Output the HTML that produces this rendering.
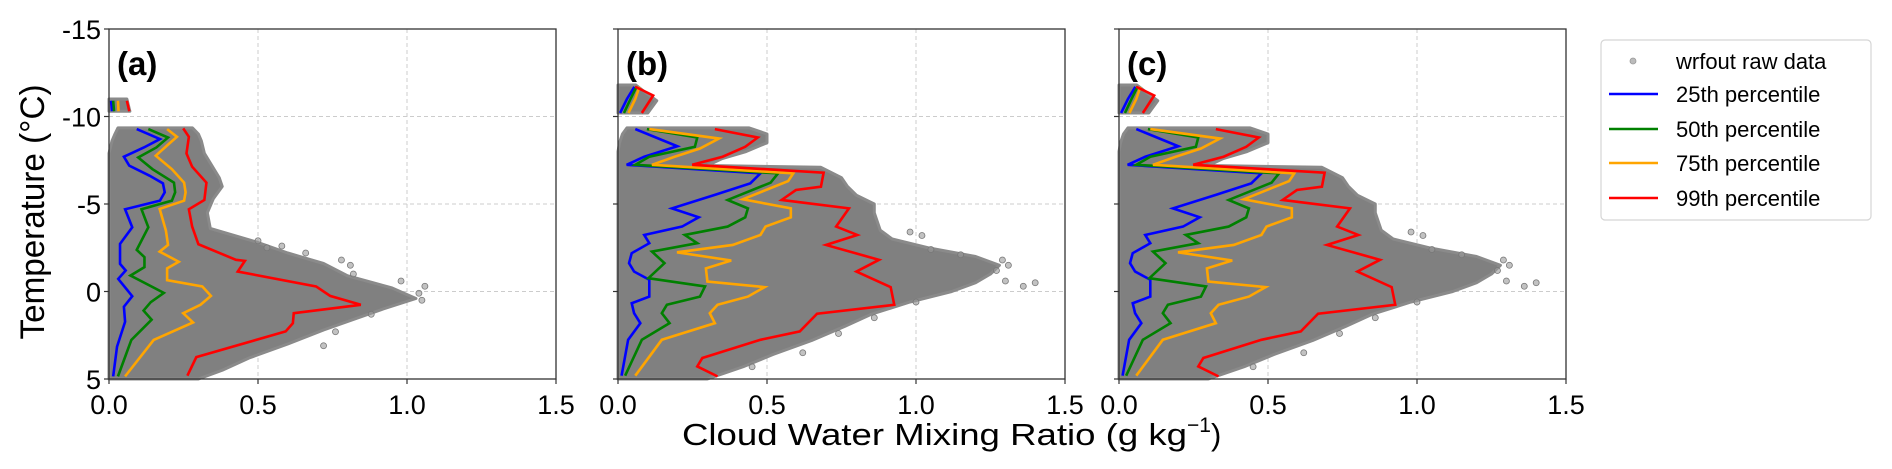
<!DOCTYPE html>
<html><head><meta charset="utf-8"><style>
body{margin:0;background:#fff;}
svg{display:block;font-family:"Liberation Sans","DejaVu Sans",sans-serif;}
</style></head><body>
<svg id="fig" width="1892" height="469" viewBox="0 0 1892 469"></svg>
<script>
// ---- data ----
const xTicks=[0,0.5,1.0,1.5];
const xTickLabels=["0.0","0.5","1.0","1.5"];
const yTicks=[-15,-10,-5,0,5];
const yTickLabels=["-15","-10","-5","0","5"];
const panelLabels=["(a)","(b)","(c)"];
const seriesNames=["25th percentile","50th percentile","75th percentile","99th percentile"];
const seriesColors=["#0000ff","#008000","#ffa500","#ff0000"];

// panel a
const aBlueT=[-9.28,-8.71,-8.23,-7.70,-7.19,-6.62,-6.18,-5.67,-5.19,-4.70,-3.67,-2.72,-1.58,-1.20,-0.72,0.27,0.87,1.73,3.15,4.85];
const aBlueX=[0.093,0.171,0.117,0.050,0.068,0.136,0.181,0.187,0.171,0.054,0.078,0.037,0.037,0.056,0.031,0.078,0.050,0.054,0.027,0.014];
const aGreenT=[-9.28,-8.80,-8.23,-7.66,-6.99,-6.22,-5.67,-5.19,-4.70,-3.67,-2.38,-1.96,-1.39,-0.91,0.08,0.61,1.09,1.61,2.77,4.85];
const aGreenX=[0.132,0.198,0.159,0.098,0.146,0.218,0.222,0.211,0.109,0.132,0.093,0.119,0.119,0.072,0.184,0.140,0.116,0.143,0.075,0.030];
const aOrangeT=[-9.28,-8.84,-8.42,-7.76,-6.99,-6.22,-5.67,-5.19,-4.72,-3.48,-2.66,-2.28,-1.70,-1.32,-0.65,-0.29,0.25,0.76,1.24,1.77,2.77,4.85];
const aOrangeX=[0.195,0.228,0.200,0.157,0.211,0.252,0.257,0.252,0.170,0.191,0.198,0.170,0.234,0.195,0.195,0.313,0.342,0.307,0.249,0.282,0.150,0.054];
const aRedT=[-9.32,-8.84,-7.89,-7.13,-6.22,-5.23,-4.70,-3.71,-2.70,-1.81,-1.75,-1.14,-0.29,0.25,0.76,1.24,1.81,2.28,3.75,4.81];
const aRedX=[0.249,0.268,0.260,0.279,0.327,0.320,0.268,0.279,0.300,0.426,0.456,0.432,0.695,0.742,0.845,0.620,0.617,0.593,0.293,0.263];
const aTopT=[-10.9,-10.3];
const aTopBlue=[0.007,0.010]; const aTopGreen=[0.014,0.017]; const aTopOrange=[0.030,0.032]; const aTopRed=[0.060,0.068];
const aCloudT=[-9.35,-9.0,-8.6,-7.9,-6.5,-6.0,-5.3,-4.5,-3.6,-3.3,-2.8,-2.2,-1.6,-0.9,-0.2,0.4,1.0,1.6,2.2,3.0,3.8,4.5,5];
const aCloudR=[0.28,0.30,0.31,0.32,0.37,0.38,0.35,0.33,0.34,0.40,0.50,0.60,0.72,0.80,0.95,1.03,0.92,0.82,0.72,0.60,0.47,0.38,0.30];
const aCloudL=[0.03,0.02,0.01,0,0,0,0,0,0,0,0,0,0,0,0,0,0,0,0,0,0,0,0];
const aTopCloudT=[-11.0,-10.3];
const aTopCloudR=[0.06,0.07];
const aOutT=[-2.9,-2.6,-2.2,-1.8,-1.5,-0.6,-0.3,0.1,0.5,1.3,2.3,3.1,-2.5,-1.0];
const aOutX=[0.50,0.58,0.66,0.78,0.81,0.98,1.06,1.04,1.05,0.88,0.76,0.72,0.53,0.82];

// panel b (nearly identical to c)
const bBlueT=[-9.28,-8.30,-7.70,-7.24,-6.75,-6.18,-5.52,-4.75,-4.24,-3.71,-3.23,-2.76,-2.19,-1.62,-1.14,-0.67,0.29,0.67,1.24,1.81,2.76,4.81];
const bBlueX=[0.058,0.199,0.088,0.029,0.478,0.444,0.325,0.181,0.271,0.215,0.088,0.105,0.046,0.037,0.054,0.105,0.105,0.046,0.054,0.075,0.034,0.012];
const bGreenT=[-9.28,-8.80,-8.27,-7.70,-7.24,-6.75,-6.22,-5.23,-4.75,-4.24,-3.71,-3.23,-2.76,-2.28,-1.62,-0.76,-0.29,0.29,0.76,1.24,1.81,2.76,4.81];
const bGreenX=[0.097,0.266,0.258,0.105,0.058,0.537,0.512,0.368,0.436,0.427,0.368,0.224,0.266,0.114,0.156,0.102,0.292,0.275,0.164,0.147,0.173,0.080,0.024];
const bOrangeT=[-9.28,-8.74,-8.17,-7.70,-7.24,-6.75,-6.31,-5.27,-4.75,-4.24,-3.71,-3.23,-2.66,-2.24,-1.77,-1.32,-0.57,-0.25,0.29,0.76,1.24,1.81,2.76,4.81];
const bOrangeX=[0.105,0.339,0.275,0.190,0.114,0.588,0.571,0.419,0.580,0.580,0.495,0.478,0.385,0.198,0.380,0.295,0.300,0.492,0.436,0.334,0.308,0.325,0.147,0.058];
const bRedT=[-9.28,-8.80,-8.27,-7.70,-7.24,-6.79,-5.99,-5.80,-5.23,-4.75,-3.71,-3.23,-2.66,-1.81,-1.14,-0.25,0.76,1.27,2.28,2.76,3.80,4.28,4.85];
const bRedX=[0.325,0.469,0.427,0.351,0.249,0.690,0.681,0.597,0.549,0.775,0.732,0.803,0.698,0.876,0.800,0.915,0.927,0.668,0.610,0.478,0.283,0.266,0.334];
const bTopT=[-10.2,-11.0,-11.7];
const bTopBlue=[0.007,0.030,0.055]; const bTopGreen=[0.020,0.042,0.062]; const bTopOrange=[0.035,0.058,0.072]; 
const bTopRedT=[-11.7,-11.2,-10.2]; const bTopRed=[0.058,0.118,0.080];
const bCloudT=[-9.35,-9.0,-8.5,-8.0,-7.6,-7.2,-7.1,-6.5,-6.0,-5.5,-5.0,-4.5,-3.5,-3.0,-2.5,-2.0,-1.5,-1.0,-0.5,0.0,0.6,1.3,2.0,2.8,3.6,4.3,5];
const bCloudR=[0.44,0.50,0.50,0.43,0.35,0.30,0.68,0.75,0.77,0.80,0.86,0.86,0.88,0.92,1.04,1.20,1.28,1.25,1.20,1.12,0.98,0.85,0.76,0.65,0.52,0.42,0.30];
const bCloudL=[0.03,0.015,0.005,0,0,0,0,0,0,0,0,0,0,0,0,0,0,0,0,0,0,0,0,0,0,0,0];
const bTopCloudT=[-11.8,-11.4,-10.9,-10.2];
const bTopCloudR=[0.06,0.09,0.13,0.10];
const bOutT=[-3.4,-3.2,-2.4,-2.1,-1.8,-1.5,-1.2,-0.6,-0.3,0.6,1.5,2.4,3.5,4.3,-0.5];
const bOutX=[0.98,1.02,1.05,1.15,1.29,1.31,1.27,1.30,1.36,1.00,0.86,0.74,0.62,0.45,1.40];

const cBlueT=bBlueT, cBlueX=bBlueX, cGreenT=bGreenT, cGreenX=bGreenX, cOrangeT=bOrangeT, cOrangeX=bOrangeX, cRedT=bRedT, cRedX=bRedX;

// ---- layout ----
const NS="http://www.w3.org/2000/svg";
const svg=document.getElementById('fig');
function el(tag,attrs,parent){const e=document.createElementNS(NS,tag);for(const k in attrs)e.setAttribute(k,attrs[k]);(parent||svg).appendChild(e);return e;}
const panelLefts=[109,618,1119];
const PW=447, PT=29, PB=379;
function xs(left){return v=>left+v/1.5*PW;}
function ys(v){return PT+(v+15)/20*(PB-PT);}

function drawPanel(i,d){
  const X=xs(panelLefts[i]);
  const g=el('g',{});
  
  
  [0.5,1.0].forEach(v=>{const l=el('line',{x1:X(v),x2:X(v),y1:PT,y2:PB,stroke:'#ccc','stroke-dasharray':'4,3','stroke-width':1},g);});
  [-10,-5,0].forEach(v=>{const l=el('line',{x1:X(0),x2:X(1.5),y1:ys(v),y2:ys(v),stroke:'#ccc','stroke-dasharray':'4,3','stroke-width':1},g);});
  function cloud(T,R,L){
    let pts=T.map((t,k)=>X(R[k])+','+ys(t));
    for(let k=T.length-1;k>=0;k--)pts.push(X(L?L[k]:0)+','+ys(T[k]));
    const p=el('polygon',{points:pts.join(' '),fill:'#808080',stroke:'#8a8a8a','stroke-width':3,'stroke-linejoin':'round'},g);
    
    
  }
  cloud(d.cT,d.cR,d.cL); cloud(d.tT,d.tR,null);
  d.oT.forEach((t,k)=>{const c=el('circle',{cx:X(d.oX[k]),cy:ys(t),r:3,fill:'#9a9a9a','fill-opacity':0.6,stroke:'#777','stroke-width':0.8},g);});
  function line(T,V,col,name){
    const p=el('polyline',{points:T.map((t,k)=>X(V[k])+','+ys(t)).join(' '),fill:'none',stroke:col,'stroke-width':2.6,'stroke-linejoin':'miter'},g);
    
    
  }
  d.lines.forEach((s,k)=>line(s[0],s[1],seriesColors[s[2]],['p25-line','p50-line','p75-line','p99-line'][s[2]]));
  const fr=el('rect',{x:X(0),y:PT,width:PW,height:PB-PT,fill:'none',stroke:'#333','stroke-width':1.3},g);
  
  xTicks.forEach((v,k)=>{
    el('line',{x1:X(v),x2:X(v),y1:PB,y2:PB+5,stroke:'#333','stroke-width':1.2},g);
    const t=el('text',{x:X(v),y:PB+35,'font-size':27,'text-anchor':'middle',fill:'#000'},g);t.textContent=xTickLabels[k];
    
  });
  yTicks.forEach((v,k)=>{
    el('line',{x1:X(0)-5,x2:X(0),y1:ys(v),y2:ys(v),stroke:'#333','stroke-width':1.2},g);
    if(i===0){const t=el('text',{x:X(0)-8,y:ys(v)+10,'font-size':27,'text-anchor':'end',fill:'#000'},g);t.textContent=yTickLabels[k];
    }
  });
  const pl=el('text',{x:X(0)+8,y:PT+46,'font-size':33,'font-weight':'bold',fill:'#000'},g);pl.textContent=panelLabels[i];
  
}
drawPanel(0,{cT:aCloudT,cR:aCloudR,cL:aCloudL,tT:aTopCloudT,tR:aTopCloudR,oT:aOutT,oX:aOutX,
  lines:[[aBlueT,aBlueX,0],[aGreenT,aGreenX,1],[aOrangeT,aOrangeX,2],[aRedT,aRedX,3],[aTopT,aTopBlue,0],[aTopT,aTopGreen,1],[aTopT,aTopOrange,2],[aTopT,aTopRed,3]]});
drawPanel(1,{cT:bCloudT,cR:bCloudR,cL:bCloudL,tT:bTopCloudT,tR:bTopCloudR,oT:bOutT,oX:bOutX,
  lines:[[bBlueT,bBlueX,0],[bGreenT,bGreenX,1],[bOrangeT,bOrangeX,2],[bRedT,bRedX,3],[bTopT,bTopBlue,0],[bTopT,bTopGreen,1],[bTopT,bTopOrange,2],[bTopRedT,bTopRed,3]]});
drawPanel(2,{cT:bCloudT,cR:bCloudR,cL:bCloudL,tT:bTopCloudT,tR:bTopCloudR,oT:bOutT,oX:bOutX,
  lines:[[cBlueT,cBlueX,0],[cGreenT,cGreenX,1],[cOrangeT,cOrangeX,2],[cRedT,cRedX,3],[bTopT,bTopBlue,0],[bTopT,bTopGreen,1],[bTopT,bTopOrange,2],[bTopRedT,bTopRed,3]]});

const yt=el('text',{x:0,y:0,'font-size':34,'text-anchor':'middle',fill:'#000',transform:'translate(44,212) rotate(-90)',textLength:255,lengthAdjust:'spacingAndGlyphs'});
yt.textContent='Temperature (°C)';

const xt=el('text',{x:682,y:445,'font-size':31,fill:'#000'});
xt.innerHTML='<tspan textLength="505" lengthAdjust="spacingAndGlyphs">Cloud Water Mixing Ratio (g kg</tspan><tspan dy="-13" font-size="21">−1</tspan><tspan dy="13">)</tspan>';


const lg=el('g',{});

el('rect',{x:1601,y:40,width:270,height:180,rx:4,fill:'#fff',stroke:'#d5d5d5','stroke-width':1.2},lg);
const rowsY=[61,94,129,163,198];
const c0=el('circle',{cx:1633,cy:rowsY[0],r:3,fill:'#bbb',stroke:'#999','stroke-width':0.8},lg);

const t0=el('text',{x:1676,y:rowsY[0]+8,'font-size':22,fill:'#000'},lg);t0.textContent='wrfout raw data';

seriesNames.forEach((n,k)=>{
  const y=rowsY[k+1];
  const l=el('line',{x1:1609,x2:1658,y1:y,y2:y,stroke:seriesColors[k],'stroke-width':2.6},lg);
  
  const t=el('text',{x:1676,y:y+8,'font-size':22,fill:'#000'},lg);t.textContent=n;
  
});
</script>
</body></html>
